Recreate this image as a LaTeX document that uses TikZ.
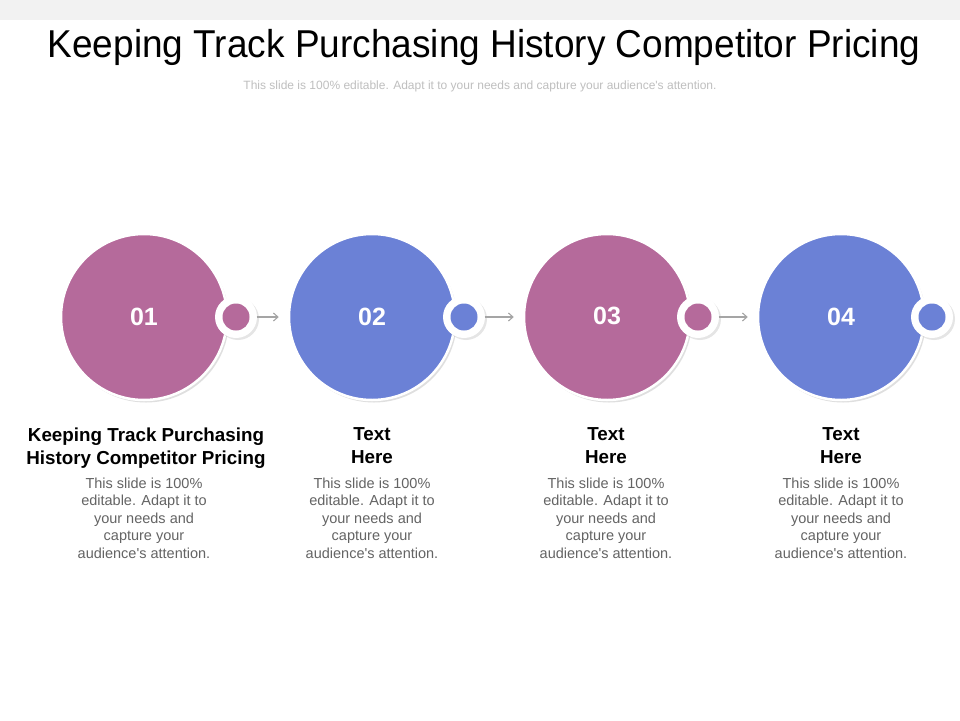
\documentclass[tikz,border=0pt]{standalone}
\usepackage{fontspec}
\setmainfont{Liberation Sans}
\usetikzlibrary{shadows,arrows.meta}
\definecolor{cpurple}{RGB}{181,106,155}
\definecolor{cblue}{RGB}{107,129,214}
\definecolor{bodygray}{RGB}{100,100,100}
\definecolor{subgray}{RGB}{191,191,191}
\definecolor{arrgray}{RGB}{165,165,165}
\definecolor{bandgray}{RGB}{242,242,242}
\newcommand{\apo}{\textquotesingle}
\tikzset{
  bigc/.style={circle, minimum size=166pt, inner sep=0pt, draw=white, line width=2.5pt, fill=#1,
    drop shadow={opacity=0.25, shadow xshift=2pt, shadow yshift=-2.5pt}},
  ringc/.style={circle, minimum size=42pt, inner sep=0pt, fill=white,
    drop shadow={opacity=0.2, shadow xshift=2pt, shadow yshift=-2pt}},
  smallc/.style={circle, minimum size=27pt, inner sep=0pt, fill=#1},
  numtxt/.style={text=white, font=\fontsize{25}{29}\selectfont\bfseries},
  headtxt/.style={align=center, font=\fontsize{18.8}{23}\selectfont\bfseries},
  bodytxt/.style={align=center, text=bodygray, font=\fontsize{14.5}{17.6}\selectfont},
  arr/.style={draw=arrgray, line width=1.1pt, -{Straight Barb[length=4.5pt,width=8pt]}, shorten <=7pt, shorten >=9pt}
}
\begin{document}
\begin{tikzpicture}[x=1pt,y=-1pt]
\useasboundingbox (0,0) rectangle (960,720);
\fill[white] (0,0) rectangle (960,720);
\fill[bandgray] (0,0) rectangle (960,20);
\node[font=\fontsize{37}{42}\selectfont, yscale=1.05] (title) at (484,47) {Keeping Track Purchasing History Competitor Pricing};
\node[font=\fontsize{12}{14}\selectfont, text=subgray] (sub) at (480,86) {This slide is 100\% editable. Adapt it to your needs and capture your audience\apo s attention.};

% circles
\node[bigc=cpurple] (c1) at (144,317) {};
\node[bigc=cblue]   (c2) at (372,317) {};
\node[bigc=cpurple] (c3) at (607,317) {};
\node[bigc=cblue]   (c4) at (841,317) {};

\node[ringc] (r1) at (236,317) {};
\node[ringc] (r2) at (464,317) {};
\node[ringc] (r3) at (698,317) {};
\node[ringc] (r4) at (932,317) {};

\node[smallc=cpurple] (s1) at (236,317) {};
\node[smallc=cblue]   (s2) at (464,317) {};
\node[smallc=cpurple] (s3) at (698,317) {};
\node[smallc=cblue]   (s4) at (932,317) {};

\node[numtxt] (n1) at (144,317) {01};
\node[numtxt] (n2) at (372,317) {02};
\node[numtxt] (n3) at (607,316) {03};
\node[numtxt] (n4) at (841,317) {04};

\draw[arr] (s1) -- (c2);
\draw[arr] (s2) -- (c3);
\draw[arr] (s3) -- (c4);

% labels
\node[headtxt, anchor=north] (h1) at (146,424) {Keeping Track Purchasing\\History Competitor Pricing};
\node[headtxt, anchor=north] (h2) at (372,424) {Text\\Here};
\node[headtxt, anchor=north] (h3) at (606,424) {Text\\Here};
\node[headtxt, anchor=north] (h4) at (841,424) {Text\\Here};

\node[bodytxt, anchor=north] (b1) at (144,474) {This slide is 100\%\\editable. Adapt it to\\your needs and\\capture your\\audience\apo s attention.};
\node[bodytxt, anchor=north] (b2) at (372,474) {This slide is 100\%\\editable. Adapt it to\\your needs and\\capture your\\audience\apo s attention.};
\node[bodytxt, anchor=north] (b3) at (606,474) {This slide is 100\%\\editable. Adapt it to\\your needs and\\capture your\\audience\apo s attention.};
\node[bodytxt, anchor=north] (b4) at (841,474) {This slide is 100\%\\editable. Adapt it to\\your needs and\\capture your\\audience\apo s attention.};
\end{tikzpicture}
\end{document}
